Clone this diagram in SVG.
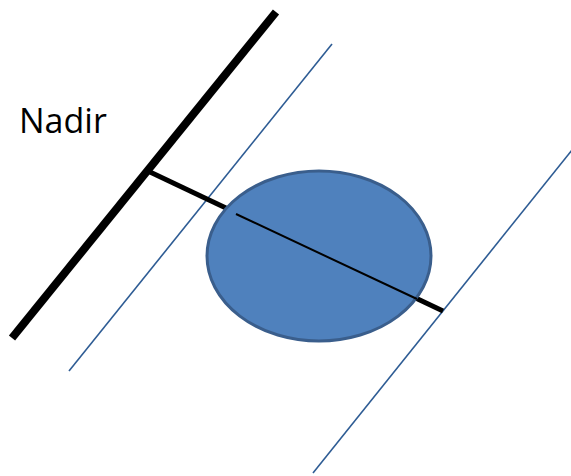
<svg xmlns="http://www.w3.org/2000/svg" width="571" height="476" viewBox="0 0 571 476">
<style>
.blue{stroke:#2E5C94;stroke-width:1.6;fill:none}
.lbl{font-family:"Open Sans","Liberation Sans",sans-serif;font-size:34px;fill:#000}
</style>
<rect width="571" height="476" fill="#fff"/>
<g id="connectors">
<line x1="12" y1="338" x2="276" y2="12" stroke="#000" stroke-width="8"/>
<line class="blue" x1="69" y1="371" x2="332" y2="44"/>
<line class="blue" x1="313" y1="473" x2="572" y2="150"/>
<line x1="150" y1="172" x2="443" y2="311" stroke="#000" stroke-width="5"/>
</g>
<g id="body">
<ellipse cx="319" cy="256" rx="112" ry="85" fill="#4F81BD" stroke="#3A5E8C" stroke-width="3"/>
<line x1="236" y1="214" x2="417" y2="299" stroke="#000" stroke-width="2"/>
</g>
<g id="nadir">
<text class="lbl" x="19" y="133">Nadir</text>
</g>
</svg>
